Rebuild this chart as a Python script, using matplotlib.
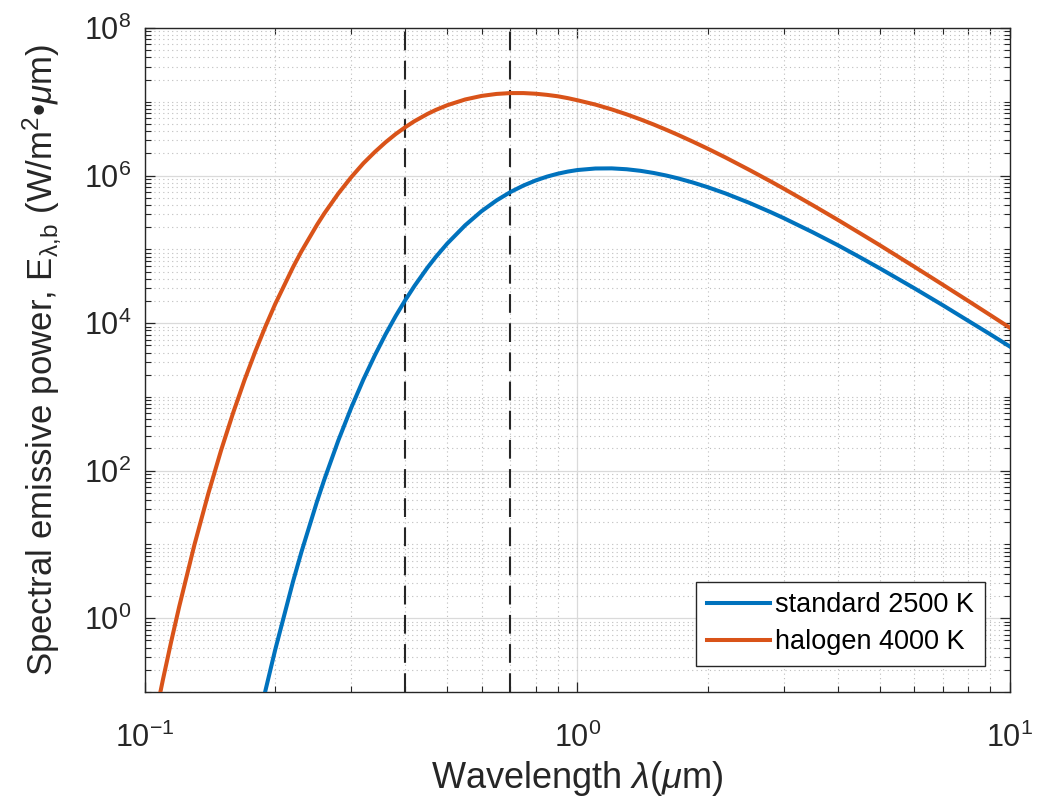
import numpy as np
import matplotlib
matplotlib.use("Agg")
import matplotlib.pyplot as plt
from matplotlib.ticker import LogLocator, NullFormatter, FixedLocator

plt.rcParams['font.family'] = ['Liberation Sans', 'DejaVu Sans']
plt.rcParams['mathtext.fontset'] = 'custom'
plt.rcParams['mathtext.rm'] = 'Liberation Sans'
plt.rcParams['mathtext.it'] = 'Liberation Sans:italic'
plt.rcParams['mathtext.default'] = 'rm'

# wavelength (um) and spectral emissive power (W/m^2/um)
wavelength = [0.1, 0.105, 0.11, 0.115, 0.12, 0.13, 0.14, 0.15, 0.16, 0.17,
              0.18, 0.19, 0.2, 0.22, 0.23, 0.25, 0.26, 0.28, 0.3, 0.32,
              0.34, 0.36, 0.38, 0.4, 0.42, 0.45, 0.47, 0.5, 0.55, 0.6,
              0.65, 0.7, 0.75, 0.8, 0.85, 0.9, 0.95, 1.0, 1.1, 1.2,
              1.3, 1.4, 1.5, 1.6, 1.7, 1.85, 2.0, 2.2, 2.5, 2.8,
              3, 3.5, 4, 4.5, 5, 6, 7, 8, 9, 10]
standard_2500 = [3.8e-12, 4.6e-11, 4.4e-10, 3.4e-9, 2.2e-8, 6.0e-7, 9.8e-6, 1.07e-4, 8.5e-4, 5.2e-3,
                 2.58e-2, 0.106, 0.372, 3.16, 7.90, 38.5, 76.7, 258, 718, 1.73e3,
                 3.66e3, 7.06e3, 1.25e4, 2.06e4, 3.20e4, 5.66e4, 7.85e4, 1.20e5, 2.12e5, 3.29e5,
                 4.61e5, 5.99e5, 7.33e5, 8.58e5, 9.68e5, 1.06e6, 1.134e6, 1.19e6, 1.248e6, 1.253e6,
                 1.219e6, 1.16e6, 1.086e6, 1.006e6, 9.24e5, 8.05e5, 6.97e5, 5.73e5, 4.26e5, 3.19e5,
                 2.65e5, 1.705e5, 1.14e5, 7.82e4, 5.54e4, 2.99e4, 1.746e4, 1.08e4, 7.08e3, 4.81e3]
halogen_4000 = [8.93e-3, 3.88e-2, 0.146, 0.485, 1.44, 9.70, 48.3, 190, 615, 1.71e3,
                4.16e3, 9.06e3, 1.81e4, 5.75e4, 9.39e4, 2.16e5, 3.09e5, 5.73e5, 9.55e5, 1.47e6,
                2.09e6, 2.83e6, 3.66e6, 4.54e6, 5.47e6, 6.85e6, 7.75e6, 9.00e6, 1.076e7, 1.202e7,
                1.279e7, 1.314e7, 1.314e7, 1.288e7, 1.243e7, 1.19e7, 1.122e7, 1.05e7, 9.18e6, 7.90e6,
                6.76e6, 5.77e6, 4.93e6, 4.21e6, 3.61e6, 2.88e6, 2.32e6, 1.759e6, 1.19e6, 8.32e5,
                6.65e5, 3.97e5, 2.51e5, 1.657e5, 1.14e5, 5.86e4, 3.31e4, 2.01e4, 1.29e4, 8.65e3]
visible_edges = [0.4, 0.7]
xticks = [0.1, 1, 10]
xticklabels = [r'$10^{-1}$', r'$10^{0}$', r'$10^{1}$']
yticks = [1, 1e2, 1e4, 1e6, 1e8]
yticklabels = [r'$10^{0}$', r'$10^{2}$', r'$10^{4}$', r'$10^{6}$', r'$10^{8}$']

fig = plt.figure(figsize=(10.37, 8.06), dpi=100)
ax = fig.add_axes([0.1398, 0.1414, 0.8341, 0.8238])

ax.loglog(wavelength, standard_2500, color='#0072BD', lw=2.9, label='standard 2500 K', zorder=3)
ax.loglog(wavelength, halogen_4000, color='#D95319', lw=2.9, label='halogen 4000 K', zorder=3)
for xv in visible_edges:
    ax.axvline(xv, color='#262626', lw=1.5, ls=(0, (9, 5)), zorder=2)

ax.set_xlim(0.1, 10)
ax.set_ylim(0.1, 1e8)

ax.xaxis.set_major_locator(FixedLocator(xticks))
ax.yaxis.set_major_locator(FixedLocator(yticks))
ax.set_xticklabels(xticklabels)
ax.set_yticklabels(yticklabels)
ax.xaxis.set_minor_locator(LogLocator(base=10, subs=np.arange(2, 10), numticks=20))
yminor = [m * 10.0 ** k for k in range(-1, 8) for m in range(1, 10)
          if not (m == 1 and k % 2 == 0)]
ax.yaxis.set_minor_locator(FixedLocator(yminor))
ax.xaxis.set_minor_formatter(NullFormatter())
ax.yaxis.set_minor_formatter(NullFormatter())

ax.grid(True, which='major', color='#dadada', lw=0.9, ls='-')
ax.grid(True, which='minor', color='#bdbdbd', lw=0.8, ls=(0, (1, 3)))
ax.set_axisbelow(True)

ax.tick_params(which='both', direction='in', top=True, right=True,
               colors='#262626', labelsize=22)
ax.tick_params(axis='x', pad=22)
ax.tick_params(axis='y', pad=10)
ax.tick_params(which='major', length=7, width=0.9)
ax.tick_params(which='minor', length=4, width=0.8)
for s in ax.spines.values():
    s.set_color('#262626')
    s.set_linewidth(1.0)

ax.set_xlabel(r'Wavelength $\mathit{\lambda}$($\mathit{\mu}$m)', fontsize=26, color='#262626', labelpad=4)
ax.set_ylabel(r'Spectral emissive power, E$_{\lambda{,}b}$ (W/m$^2$•$\mathit{\mu}$m)',
              fontsize=25, color='#262626', labelpad=15)

leg = ax.legend(loc='lower right', bbox_to_anchor=(0.971, 0.039), borderaxespad=0,
                fontsize=19.5, fancybox=False, framealpha=1, edgecolor='#262626',
                handlelength=2.3, handletextpad=0.2, borderpad=0.4, labelspacing=0.4)
leg.get_frame().set_linewidth(1.0)

fig.savefig('out.png', dpi=100)
